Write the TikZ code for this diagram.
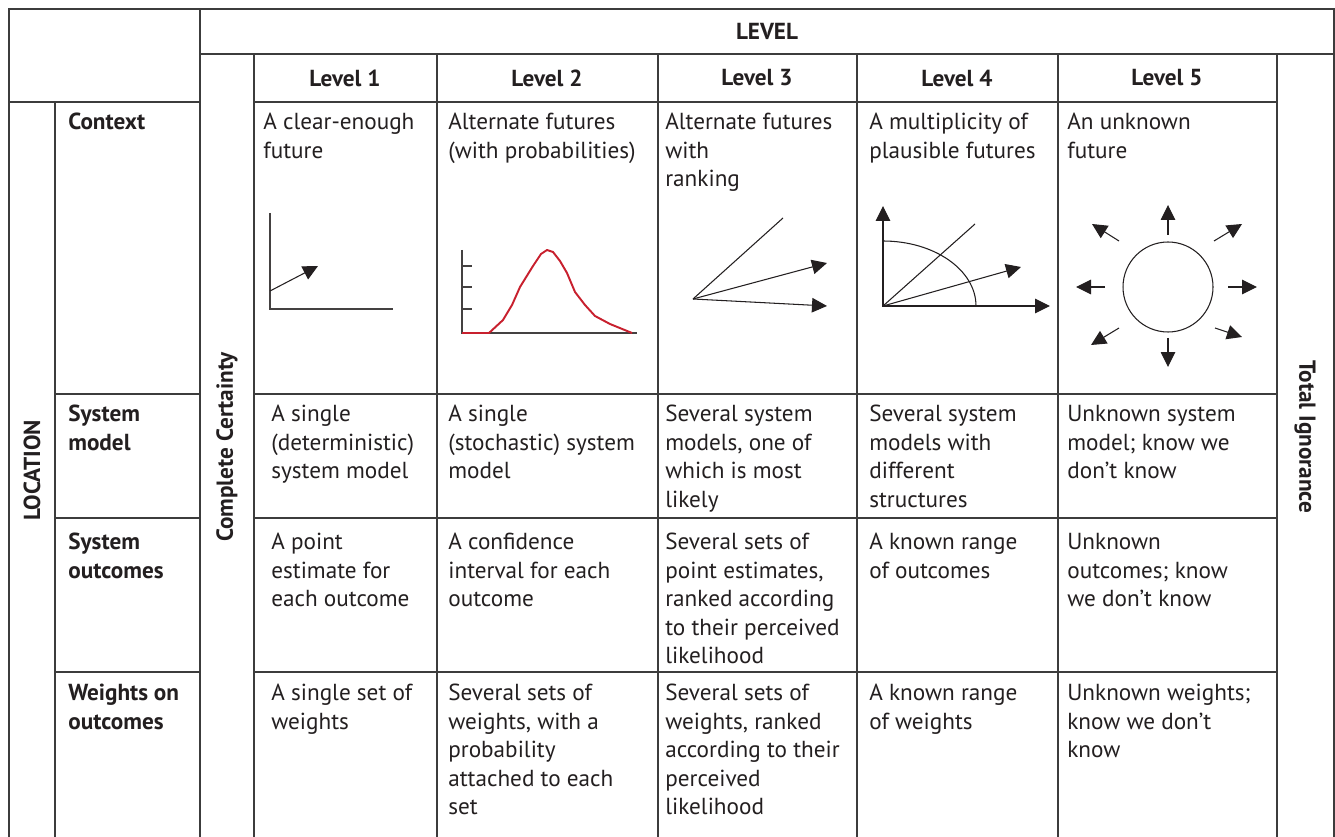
\documentclass[tikz,border=0pt]{standalone}
\usepackage{fontspec}
\setmainfont{PT Sans}
\usetikzlibrary{arrows.meta}
\definecolor{rulegray}{RGB}{60,60,60}
\definecolor{ink}{RGB}{35,31,32}
\definecolor{curvered}{RGB}{200,32,46}
\newcommand{\cellfont}{\fontsize{13.2}{16.2}\selectfont}
\tikzset{%
  >={Triangle[width=2.9mm,length=3mm]},
  % Specifications for style of the texts:
          base/.style = {inner sep=0pt, text=ink, font=\cellfont},
          cell/.style = {base, anchor=north west, align=left,
                         execute at begin node=\strut},
       rowhead/.style = {cell, font=\cellfont\bfseries},
       colhead/.style = {base, font=\cellfont\bfseries},
  % Specifications for style of the lines:
      gridline/.style = {draw=rulegray, line width=0.9pt},
        sketch/.style = {draw=ink, line width=0.6pt},
          axis/.style = {draw=ink!85, line width=0.9pt},
         curve/.style = {draw=curvered, line width=1.1pt, line join=round},
}

\begin{document}
\begin{tikzpicture}[x=0.02cm, y=-0.02cm]
  \useasboundingbox (0,0) rectangle (1335,837);
  \fill[white] (0,0) rectangle (1335,837);

  % Grid of the table
  \draw[gridline]   (9,837) -- (9,9) -- (1334,9) -- (1334,837);
  \draw[gridline]   (200,9) -- (200,837);
  \draw[gridline]   (200,54) -- (1334,54);
  \draw[gridline]   (254,54) -- (254,837);
  \draw[gridline]   (437,54) -- (437,837);
  \draw[gridline]   (658,54) -- (658,837);
  \draw[gridline]   (857,54) -- (857,837);
  \draw[gridline]   (1058,54) -- (1058,837);
  \draw[gridline]   (1277,54) -- (1277,837);
  \draw[gridline]   (55,102) -- (55,837);
  \draw[gridline]   (9,102) -- (200,102) (254,102) -- (1277,102);
  \draw[gridline]   (55,394) -- (200,394) (254,394) -- (1277,394);
  \draw[gridline]   (55,518) -- (200,518) (254,518) -- (1277,518);
  \draw[gridline]   (55,672) -- (200,672) (254,672) -- (1277,672);

  % Headings
  \node (level)       [colhead] at (767,31.5) {LEVEL};
  \node (lev1)        [colhead] at (345,78) {Level 1};
  \node (lev2)        [colhead] at (547,78) {Level 2};
  \node (lev3)        [colhead] at (757,78) {Level 3};
  \node (lev4)        [colhead] at (957,78) {Level 4};
  \node (lev5)        [colhead] at (1167,78) {Level 5};
  \node (location)    [colhead, rotate=90] at (32,470) {LOCATION};
  \node (certainty)   [colhead, rotate=90] at (227,447) {Complete Certainty};
  \node (ignorance)   [colhead, rotate=-90] at (1305,437) {Total Ignorance};

  \node (context)     [rowhead] at (68,109) {Context};
  \node (model)       [rowhead] at (68,405) {System\\model};
  \node (outcomes)    [rowhead] at (68,533) {System\\outcomes};
  \node (weights)     [rowhead] at (68,684) {Weights on\\outcomes};

  % Context row
  \node (ctx1)        [cell] at (263,113) {A clear-enough\\future};
  \node (ctx2)        [cell] at (448,113) {Alternate futures\\(with probabilities)};
  \node (ctx3)        [cell] at (665,113) {Alternate futures\\with\\ranking};
  \node (ctx4)        [cell] at (869,113) {A multiplicity of\\plausible futures};
  \node (ctx5)        [cell] at (1067,113) {An unknown\\future};

  % System model row
  \node (mod1)        [cell] at (271,405) {A single\\(deterministic)\\system model};
  \node (mod2)        [cell] at (448,405) {A single\\(stochastic) system\\model};
  \node (mod3)        [cell] at (665,405) {Several system\\models, one of\\which is most\\likely};
  \node (mod4)        [cell] at (869,405) {Several system\\models with\\different\\structures};
  \node (mod5)        [cell] at (1067,405) {Unknown system\\model; know we\\don’t know};

  % System outcomes row
  \node (out1)        [cell] at (271,533) {A point\\estimate for\\each outcome};
  \node (out2)        [cell] at (448,533) {A confidence\\interval for each\\outcome};
  \node (out3)        [cell] at (665,533) {Several sets of\\point estimates,\\ranked according\\to their perceived\\likelihood};
  \node (out4)        [cell] at (869,533) {A known range\\of outcomes};
  \node (out5)        [cell] at (1067,533) {Unknown\\outcomes; know\\we don’t know};

  % Weights row
  \node (wgt1)        [cell] at (271,684) {A single set of\\weights};
  \node (wgt2)        [cell] at (448,684) {Several sets of\\weights, with a\\probability\\attached to each\\set};
  \node (wgt3)        [cell] at (665,684) {Several sets of\\weights, ranked\\according to their\\perceived\\likelihood};
  \node (wgt4)        [cell] at (869,684) {A known range\\of weights};
  \node (wgt5)        [cell] at (1067,684) {Unknown weights;\\know we don’t\\know};

  % Level 1 sketch
  \draw[axis]         (270,213) -- (270,309) -- (393,309);
  \draw[sketch,->]    (270,291) -- (318,266);

  % Level 2 sketch
  \draw[axis]         (462,250) -- (462,333) -- (637,333);
  \draw[axis]         (462,266) -- (472,266) (462,287) -- (472,287) (462,309) -- (472,309);
  \draw[curve]        (462,333) -- (489,333) -- (503,320) -- (512,305) -- (520,287)
                      -- (533,266) -- (541,254) -- (547,250) -- (553,252) -- (560,261)
                      -- (567,273) -- (575,292) -- (585,305) -- (595,316) -- (610,324)
                      -- (632,333);

  % Level 3 sketch
  \draw[sketch]       (693,299) -- (783,218);
  \draw[sketch,->]    (693,299) -- (827,263);
  \draw[sketch,->]    (693,299) -- (827,306);

  % Level 4 sketch
  \draw[sketch,<->]   (883,206) -- (883,306) -- (1050,306);
  \draw[sketch]       (883,306) -- (975,224);
  \draw[sketch,->]    (883,306) -- (1021,267);
  \draw[sketch]       (883,241) arc[start angle=-90, end angle=0, x radius=93, y radius=65];

  % Level 5 sketch
  \draw[sketch]       (1168,287) circle[radius=45];
  \draw[sketch,->]    (1168,235) -- (1168,205);
  \draw[sketch,->]    (1168,338) -- (1168,367);
  \draw[sketch,->]    (1105,287) -- (1076,287);
  \draw[sketch,->]    (1228,287) -- (1257,287);
  \draw[sketch,->]    (1119,241) -- (1092,224);
  \draw[sketch,->]    (1214,241) -- (1242,224);
  \draw[sketch,->]    (1119,328) -- (1091,345);
  \draw[sketch,->]    (1215,328) -- (1242,337);
\end{tikzpicture}
\end{document}
